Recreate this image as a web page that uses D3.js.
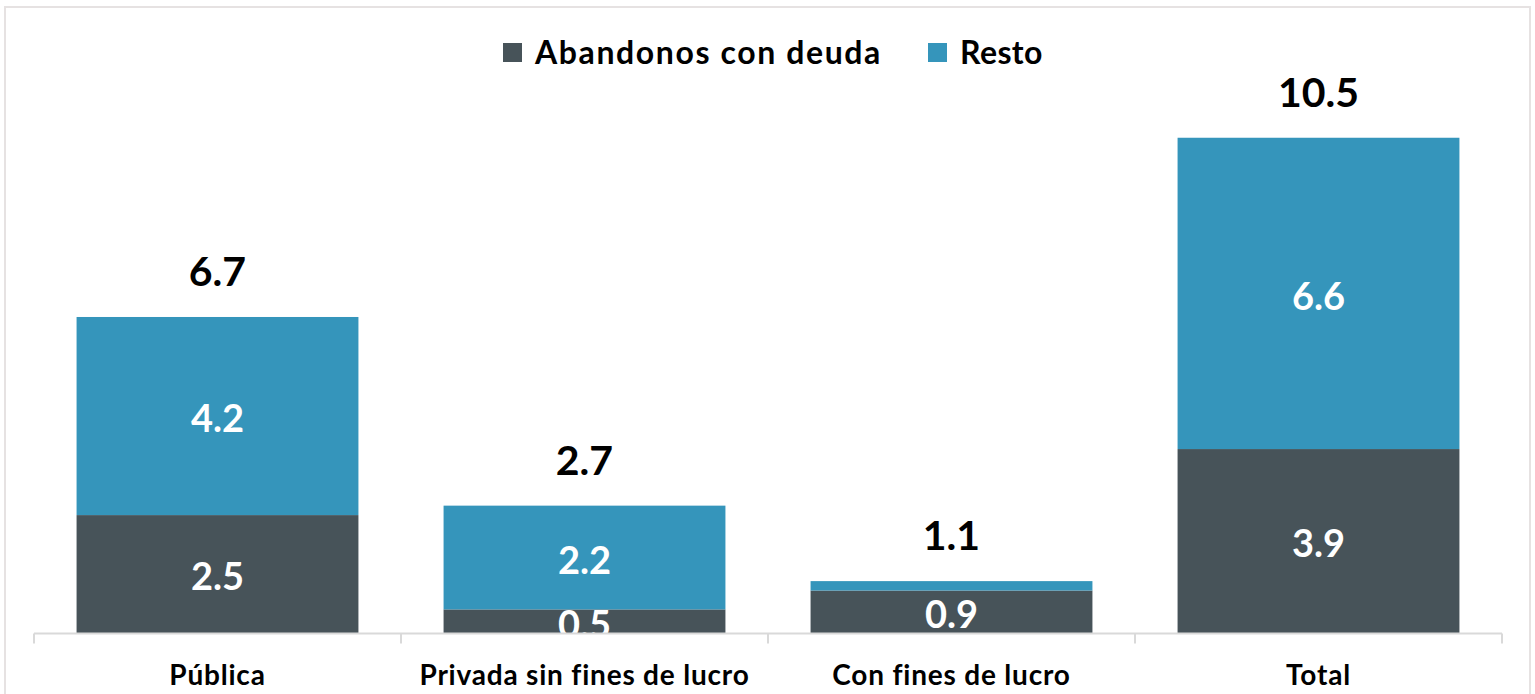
<!DOCTYPE html>
<html>
<head>
<meta charset="utf-8">
<script src="https://cdn.jsdelivr.net/npm/d3@7"></script>
<style>
  body { margin: 0; background: #fff; }
  svg { display: block; font-family: Lato, "Open Sans", sans-serif; }
</style>
</head>
<body>
<div id="chart"></div>
<script>
const categories = ["Pública", "Privada sin fines de lucro", "Con fines de lucro", "Total"];
const abandonos = [2.5, 0.5, 0.9, 3.9];
const resto = [4.2, 2.2, 0.2, 6.6];
const totals = [6.7, 2.7, 1.1, 10.5];
const seriesNames = ["Abandonos con deuda", "Resto"];

const width = 1535;
const height = 694;
const plot = {left: 34, right: 1502, top: 67, bottom: 633};

const color = d3.scaleOrdinal()
  .domain(seriesNames)
  .range(["#475359", "#3595bb"]);

const data = categories.map(function(c, i) {
  return {cat: c, "Abandonos con deuda": abandonos[i], "Resto": resto[i], total: totals[i]};
});

const svg = d3.select("#chart").append("svg")
  .attr("width", width)
  .attr("height", height);

// outer border
svg.append("rect")
  .attr("x", 5).attr("y", 7)
  .attr("width", 1525).attr("height", 700)
  .attr("fill", "none")
  .attr("stroke", "#e6e2e2")
  .attr("stroke-width", 2);

svg.append("clipPath").attr("id", "plotclip")
  .append("rect")
  .attr("x", plot.left).attr("y", 0)
  .attr("width", plot.right - plot.left)
  .attr("height", plot.bottom);

const xScale = d3.scaleBand()
  .domain(categories)
  .range([plot.left, plot.right])
  .paddingInner(0.232)
  .paddingOuter(0.116);

const yScale = d3.scaleLinear()
  .domain([0, 12])
  .range([plot.bottom, plot.top]);

const stacked = d3.stack().keys(seriesNames)(data);

const layers = svg.selectAll("g.layer")
  .data(stacked)
  .join("g")
  .attr("class", "layer")
  .attr("fill", function(d) { return color(d.key); });

layers.selectAll("rect")
  .data(function(d) { return d; })
  .join("rect")
  .attr("x", function(d) { return xScale(d.data.cat); })
  .attr("width", xScale.bandwidth())
  .attr("y", function(d) { return yScale(d[1]); })
  .attr("height", function(d) { return yScale(d[0]) - yScale(d[1]); });

// segment labels (clipped to plot area like the original; too-thin slices unlabeled)
const segLabels = svg.append("g").attr("clip-path", "url(#plotclip)");
stacked.forEach(function(layer) {
  segLabels.selectAll("text.s" + layer.index)
    .data(layer.filter(function(d) { return d[1] - d[0] >= 0.3; }))
    .join("text")
    .attr("class", "s" + layer.index)
    .attr("x", function(d) { return xScale(d.data.cat) + xScale.bandwidth() / 2; })
    .attr("y", function(d) { return (yScale(d[0]) + yScale(d[1])) / 2 + 3; })
    .attr("dy", "0.35em")
    .attr("text-anchor", "middle")
    .attr("fill", "#fff")
    .style("font-size", "38px")
    .style("font-weight", "bold")
    .text(function(d) { return d3.format(".1f")(d[1] - d[0]); });
});

// totals above bars
svg.selectAll("text.total")
  .data(data)
  .join("text")
  .attr("class", "total")
  .attr("x", function(d) { return xScale(d.cat) + xScale.bandwidth() / 2; })
  .attr("y", function(d) { return yScale(d.total) - 31; })
  .attr("text-anchor", "middle")
  .attr("fill", "#000")
  .style("font-size", "41px")
  .style("font-weight", "bold")
  .text(function(d) { return d3.format(".1f")(d.total); });

// x axis
const xAxis = svg.append("g")
  .attr("transform", "translate(0," + (plot.bottom + 0.5) + ")");
xAxis.append("line")
  .attr("x1", plot.left).attr("x2", plot.right)
  .attr("stroke", "#d9d9d9").attr("stroke-width", 2);
const ticks = d3.range(categories.length + 1).map(function(i) {
  return plot.left + i * xScale.step();
});
xAxis.selectAll("line.tick")
  .data(ticks)
  .join("line")
  .attr("class", "tick")
  .attr("x1", function(d) { return d; })
  .attr("x2", function(d) { return d; })
  .attr("y1", 0).attr("y2", 10)
  .attr("stroke", "#d9d9d9").attr("stroke-width", 2);
xAxis.selectAll("text")
  .data(categories)
  .join("text")
  .attr("x", function(d) { return xScale(d) + xScale.bandwidth() / 2; })
  .attr("y", 51)
  .attr("text-anchor", "middle")
  .attr("fill", "#000")
  .style("font-size", "28px")
  .style("font-weight", "bold")
  .style("letter-spacing", "0.8px")
  .text(function(d) { return d; });

// legend
const legend = svg.append("g");
const legendX = [503, 928];
seriesNames.forEach(function(name, i) {
  legend.append("rect")
    .attr("x", legendX[i]).attr("y", 43)
    .attr("width", 19).attr("height", 19)
    .attr("fill", color(name));
  legend.append("text")
    .attr("x", legendX[i] + 32)
    .attr("y", 64)
    .attr("fill", "#000")
    .style("font-size", "32px")
    .style("font-weight", "bold")
    .style("letter-spacing", i === 0 ? "1.6px" : "0.4px")
    .text(name);
});
</script>
</body>
</html>
